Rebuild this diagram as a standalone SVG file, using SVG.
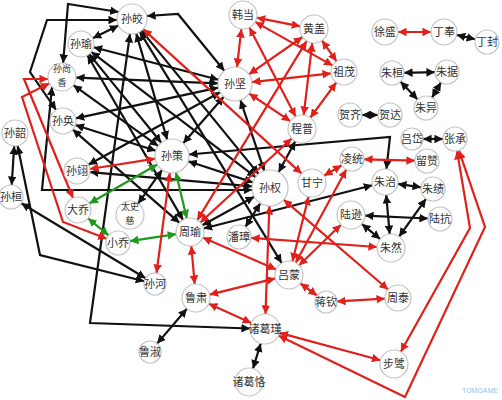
<svg xmlns="http://www.w3.org/2000/svg" width="502" height="400" viewBox="0 0 502 400">
<defs>
<marker id="ak" viewBox="0 0 10 10" refX="10" refY="5" markerWidth="3.9" markerHeight="3.9" orient="auto-start-reverse"><path d="M0,0 L10,5 L0,10 z" fill="#111"/></marker>
<marker id="ar" viewBox="0 0 10 10" refX="10" refY="5" markerWidth="3.9" markerHeight="3.9" orient="auto-start-reverse"><path d="M0,0 L10,5 L0,10 z" fill="#e0201b"/></marker>
<marker id="ag" viewBox="0 0 10 10" refX="10" refY="5" markerWidth="3.9" markerHeight="3.9" orient="auto-start-reverse"><path d="M0,0 L10,5 L0,10 z" fill="#1f9a1f"/></marker>
<style>
.k{fill:none;stroke:#111;stroke-width:2.2;marker-start:url(#ak);marker-end:url(#ak)}
.r{fill:none;stroke:#e0201b;stroke-width:2.2;marker-start:url(#ar);marker-end:url(#ar)}
.g{fill:none;stroke:#1f9a1f;stroke-width:2.2;marker-start:url(#ag);marker-end:url(#ag)}
.n circle{fill:#fff;stroke:#c4c4c4;stroke-width:1.2}
.n text{font-family:"Noto Sans CJK SC","Noto Sans",sans-serif;font-size:11px;fill:#333;text-anchor:middle}
.n text.s{font-size:9px}
.wm{font-family:"Liberation Sans",sans-serif;font-size:7px;fill:#9cc3e0}
</style>
</defs>
<rect width="502" height="400" fill="#fff"/>
<g id="connectors">
<path class="k" d="M456.7,34.9 L475.3,39.3"/>
<path class="k" d="M404,72.8 L435,72.2"/>
<path class="k" d="M400.4,81.6 L417.6,99.4"/>
<path class="k" d="M441,82.4 L432,97.6"/>
<path class="k" d="M362,115 L378,115"/>
<path class="k" d="M423,139 L443,139"/>
<path class="k" d="M397.9,183.9 L421.1,187.3"/>
<path class="k" d="M386.2,194.9 L389.7,234.1"/>
<path class="k" d="M365,215.6 L428,218.5"/>
<path class="k" d="M361.8,223.9 L380.2,239.1"/>
<path class="k" d="M426,198.8 L399.1,236.6"/>
<path class="k" d="M260.7,343.4 L253,368.6"/>
<path class="k" d="M157.1,343.6 L186.9,308.7"/>
<path class="k" d="M14.2,146 L11.7,185"/>
<path class="k" d="M21.3,203.2 L145.6,278.3"/>
<path class="k" d="M17.6,145.7 L40,255 L144.3,281.3"/>
<path class="k" d="M118.5,25.6 L92.7,38.3"/>
<path class="k" d="M147,16 L178,14 L224.3,70.8"/>
<path class="k" d="M136.2,33.4 L167.2,139.7"/>
<path class="k" d="M141.5,30.6 L258.6,174.1"/>
<path class="k" d="M117,20 L47,20 L30,72 L56.1,110"/>
<path class="k" d="M63.1,63 L68,4 L118.7,12"/>
<path class="k" d="M93.6,47.3 L218.5,79.7"/>
<path class="k" d="M89.2,54.1 L161.3,142.8"/>
<path class="k" d="M91.3,51.9 L255.7,177.1"/>
<path class="k" d="M76,77.6 L218,83.3"/>
<path class="k" d="M73.4,85.2 L158.2,146.1"/>
<path class="k" d="M52,87 L42,190 L252.1,190"/>
<path class="k" d="M75.7,118.3 L218.4,87.6"/>
<path class="k" d="M75.4,125 L155.8,150.8"/>
<path class="k" d="M88.4,164.7 L220.1,92.2"/>
<path class="k" d="M90,172.1 L252.1,186.4"/>
<path class="k" d="M183.2,143.2 L223.8,96.8"/>
<path class="k" d="M188.2,161.3 L252.9,182.4"/>
<path class="k" d="M240.4,100.1 L264.3,170.9"/>
<path class="k" d="M162.1,169.9 L138.1,203.6"/>
<path class="k" d="M130,33.9 L90,323 L250,328.5"/>
<path class="k" d="M260.4,203.2 L245.4,226.9"/>
<path class="k" d="M278.6,172.2 L295.3,141.3"/>
<path class="k" d="M203.6,228.5 L372.4,185.2"/>
<path class="k" d="M188.9,154.5 L390,137 L386.4,169.1"/>
<path class="k" d="M254.2,196.7 L202.3,225.3"/>
<path class="k" d="M139.8,31.8 L281.7,263.1"/>
<path class="k" d="M87.5,55.2 L183,219.9"/>
<path class="k" d="M72.8,129.6 L179.5,222.8"/>
<path class="g" d="M157.3,164.5 L89.3,203.5"/>
<path class="g" d="M175.9,172.5 L186.8,218.4"/>
<path class="g" d="M176.2,234.1 L129.9,241.2"/>
<path class="g" d="M88,218.3 L108.7,235.4"/>
<path class="r" d="M398,32 L431,32"/>
<path class="r" d="M364,159.3 L415,160.7"/>
<path class="r" d="M256.7,17.7 L300.3,26.3"/>
<path class="r" d="M241.4,28.9 L237,67.1"/>
<path class="r" d="M255.2,21.9 L332.7,65.6"/>
<path class="r" d="M249.4,27.4 L295.6,116.6"/>
<path class="r" d="M302.5,37 L248.9,74.3"/>
<path class="r" d="M322,40.5 L336.6,61.3"/>
<path class="r" d="M312.3,42.9 L303.7,115.1"/>
<path class="r" d="M331.1,73.4 L251.9,82.1"/>
<path class="r" d="M336.3,82.5 L310.3,117.7"/>
<path class="r" d="M249.1,93.5 L290.4,121.2"/>
<path class="r" d="M306.7,40.9 L197.3,220.1"/>
<path class="r" d="M291.7,138.5 L200.3,222.5"/>
<path class="r" d="M143.1,29.1 L301.7,173.6"/>
<path class="r" d="M324,175.8 L341.7,165.2"/>
<path class="r" d="M308.6,196.6 L292.4,261.4"/>
<path class="r" d="M269.4,206 L265.5,314"/>
<path class="r" d="M283.6,199.7 L388.1,289.5"/>
<path class="r" d="M300.3,283.3 L317.1,295.5"/>
<path class="r" d="M337,301.4 L385,298.7"/>
<path class="r" d="M275.4,278.4 L209.6,294.6"/>
<path class="r" d="M208.8,303.7 L251.3,322.9"/>
<path class="r" d="M191.3,246 L194.7,284"/>
<path class="r" d="M202.8,237.6 L276.2,269.4"/>
<path class="r" d="M279.5,332.9 L380.5,360.3"/>
<path class="r" d="M457,150.8 L470,228 L400.8,351.8"/>
<path class="r" d="M458.9,150.4 L485,227 L405,397 L278.5,335.6"/>
<path class="r" d="M299.1,265.3 L340.9,224.7"/>
<path class="r" d="M251,237.9 L377,247"/>
<path class="r" d="M346.3,169.5 L295.7,262.7"/>
<path class="r" d="M169.8,172.9 L156.5,273.1"/>
<path class="r" d="M89.8,169 L155.2,158.7"/>
<path class="r" d="M48,79 L24,79 L73,198"/>
<path class="r" d="M49.5,83.3 L22,97 L63,222 L106.8,238.7"/>
</g>
<g id="n-sunjiao" class="n"><circle cx="132" cy="19" r="15"/><text x="132" y="23">孙皎</text></g>
<g id="n-sunyu" class="n"><circle cx="81" cy="44" r="13"/><text x="81" y="48">孙瑜</text></g>
<g id="n-sunshangxiang" class="n"><circle cx="62" cy="77" r="14"/><text class="s" x="62" y="72">孙尚</text><text class="s" x="62" y="86">香</text></g>
<g id="n-sunhuan" class="n"><circle cx="63" cy="121" r="13"/><text x="63" y="125">孙奂</text></g>
<g id="n-sunshao" class="n"><circle cx="15" cy="133" r="13"/><text x="15" y="137">孙韶</text></g>
<g id="n-sunhuan2" class="n"><circle cx="11" cy="197" r="12"/><text x="11" y="201">孙桓</text></g>
<g id="n-sunyi" class="n"><circle cx="77" cy="171" r="13"/><text x="77" y="175">孙翊</text></g>
<g id="n-daqiao" class="n"><circle cx="78" cy="210" r="13"/><text x="78" y="214">大乔</text></g>
<g id="n-taishici" class="n"><circle cx="130" cy="215" r="14"/><text class="s" x="130" y="210">太史</text><text class="s" x="130" y="224">慈</text></g>
<g id="n-xiaoqiao" class="n"><circle cx="118" cy="243" r="12"/><text x="118" y="247">小乔</text></g>
<g id="n-suance" class="n"><circle cx="172" cy="156" r="17"/><text x="172" y="160">孙策</text></g>
<g id="n-zhouyu" class="n"><circle cx="190" cy="232" r="14"/><text x="190" y="236">周瑜</text></g>
<g id="n-sunhe" class="n"><circle cx="155" cy="284" r="11"/><text x="155" y="288">孙河</text></g>
<g id="n-lusu" class="n"><circle cx="196" cy="298" r="14"/><text x="196" y="302">鲁肃</text></g>
<g id="n-lushu" class="n"><circle cx="150" cy="352" r="11"/><text x="150" y="356">鲁淑</text></g>
<g id="n-zhugejin" class="n"><circle cx="265" cy="329" r="15"/><text x="265" y="333">诸葛瑾</text></g>
<g id="n-zhugeke" class="n"><circle cx="249" cy="382" r="14"/><text x="249" y="386">诸葛恪</text></g>
<g id="n-lvmeng" class="n"><circle cx="289" cy="275" r="14"/><text x="289" y="279">吕蒙</text></g>
<g id="n-jiangqin" class="n"><circle cx="326" cy="302" r="11"/><text x="326" y="306">蒋钦</text></g>
<g id="n-zhoutai" class="n"><circle cx="398" cy="298" r="13"/><text x="398" y="302">周泰</text></g>
<g id="n-buzhi" class="n"><circle cx="394" cy="364" r="14"/><text x="394" y="368">步骘</text></g>
<g id="n-sunquan" class="n"><circle cx="270" cy="188" r="18"/><text x="270" y="192">孙权</text></g>
<g id="n-panzhang" class="n"><circle cx="239" cy="237" r="12"/><text x="239" y="241">潘璋</text></g>
<g id="n-ganning" class="n"><circle cx="312" cy="183" r="14"/><text x="312" y="187">甘宁</text></g>
<g id="n-lingtong" class="n"><circle cx="352" cy="159" r="12"/><text x="352" y="163">凌统</text></g>
<g id="n-liuzan" class="n"><circle cx="427" cy="161" r="12"/><text x="427" y="165">留赞</text></g>
<g id="n-lvdai" class="n"><circle cx="412" cy="139" r="11"/><text x="412" y="143">吕岱</text></g>
<g id="n-zhangcheng" class="n"><circle cx="455" cy="139" r="12"/><text x="455" y="143">张承</text></g>
<g id="n-zhuzhi" class="n"><circle cx="385" cy="182" r="13"/><text x="385" y="186">朱治</text></g>
<g id="n-zhuji" class="n"><circle cx="433" cy="189" r="12"/><text x="433" y="193">朱绩</text></g>
<g id="n-luxun" class="n"><circle cx="351" cy="215" r="14"/><text x="351" y="219">陆逊</text></g>
<g id="n-lukang" class="n"><circle cx="440" cy="219" r="12"/><text x="440" y="223">陆抗</text></g>
<g id="n-zhuran" class="n"><circle cx="391" cy="248" r="14"/><text x="391" y="252">朱然</text></g>
<g id="n-chengpu" class="n"><circle cx="302" cy="129" r="14"/><text x="302" y="133">程普</text></g>
<g id="n-sunjian" class="n"><circle cx="235" cy="84" r="17"/><text x="235" y="88">孙坚</text></g>
<g id="n-handang" class="n"><circle cx="243" cy="15" r="14"/><text x="243" y="19">韩当</text></g>
<g id="n-huanggai" class="n"><circle cx="314" cy="29" r="14"/><text x="314" y="33">黄盖</text></g>
<g id="n-zumao" class="n"><circle cx="344" cy="72" r="13"/><text x="344" y="76">祖茂</text></g>
<g id="n-heqi" class="n"><circle cx="350" cy="115" r="12"/><text x="350" y="119">贺齐</text></g>
<g id="n-heda" class="n"><circle cx="390" cy="115" r="12"/><text x="390" y="119">贺达</text></g>
<g id="n-xusheng" class="n"><circle cx="385" cy="32" r="13"/><text x="385" y="36">徐盛</text></g>
<g id="n-dingfeng" class="n"><circle cx="444" cy="32" r="13"/><text x="444" y="36">丁奉</text></g>
<g id="n-dingfeng2" class="n"><circle cx="487" cy="42" r="12"/><text x="487" y="46">丁封</text></g>
<g id="n-zhuhuan" class="n"><circle cx="392" cy="73" r="12"/><text x="392" y="77">朱桓</text></g>
<g id="n-zhuju" class="n"><circle cx="447" cy="72" r="12"/><text x="447" y="76">朱据</text></g>
<g id="n-zhuyi" class="n"><circle cx="426" cy="108" r="12"/><text x="426" y="112">朱异</text></g>
<text class="wm" x="462" y="393">TOMGAME</text>
</svg>
